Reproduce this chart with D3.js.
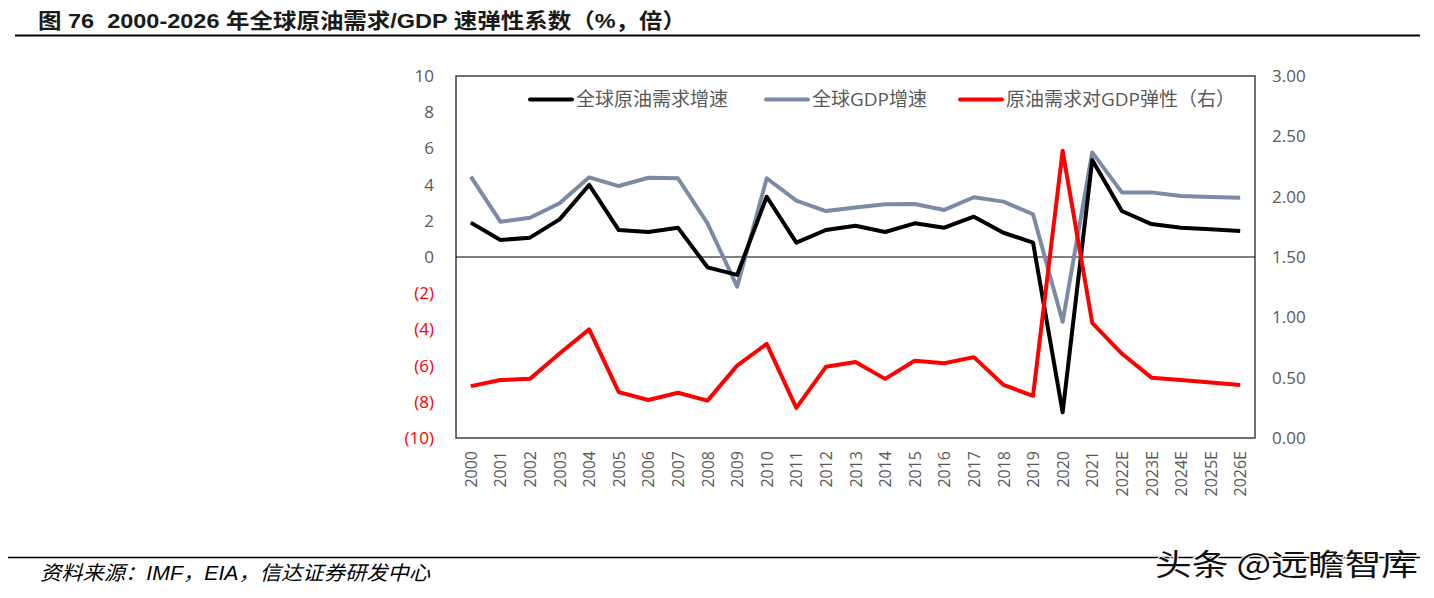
<!DOCTYPE html>
<html><head><meta charset="utf-8">
<script src="https://cdn.jsdelivr.net/npm/d3@7"></script>
<style>
body{margin:0;background:#fff;}
svg{display:block;}
text{white-space:pre;}
</style></head>
<body><svg id="c" width="1434" height="598"></svg>
<script>
const years = ["2000","2001","2002","2003","2004","2005","2006","2007","2008","2009","2010","2011","2012","2013","2014","2015","2016","2017","2018","2019","2020","2021","2022E","2023E","2024E","2025E","2026E"];
const oilDemand = [1.9,0.94,1.07,2.08,3.98,1.49,1.38,1.62,-0.57,-0.99,3.33,0.79,1.49,1.73,1.38,1.86,1.62,2.23,1.34,0.79,-8.58,5.36,2.54,1.82,1.62,1.53,1.44];
const gdpGrowth = [4.44,1.95,2.17,2.97,4.40,3.92,4.38,4.35,1.86,-1.64,4.35,3.11,2.54,2.73,2.91,2.93,2.60,3.30,3.06,2.36,-3.58,5.78,3.57,3.57,3.37,3.31,3.28];
const elasticity = [0.43,0.48,0.49,0.70,0.90,0.38,0.315,0.375,0.31,0.60,0.78,0.25,0.59,0.63,0.49,0.64,0.62,0.67,0.44,0.35,2.38,0.955,0.70,0.50,0.48,0.46,0.44];
const leftTicks = [10,8,6,4,2,0,-2,-4,-6,-8,-10];
const rightTicks = [3,2.5,2,1.5,1,0.5,0];
const seriesNames = ["全球原油需求增速","全球GDP增速","原油需求对GDP弹性（右）"];

const svg = d3.select("#c");
const L = 456, R = 1255, T = 76, B = 438;
const x = d3.scalePoint().domain(years).range([L, R]).padding(0.5);
const yL = d3.scaleLinear().domain([-10, 10]).range([B, T]);
const yR = d3.scaleLinear().domain([0, 3]).range([B, T]);

// Title
svg.append("text").attr("x", 38).attr("y", 28)
  .attr("font-family", "'Liberation Sans','Noto Sans CJK SC',sans-serif")
  .attr("font-weight", "bold").attr("font-size", 21).attr("fill", "#1a1a1a")
  .attr("textLength", 648).attr("lengthAdjust", "spacingAndGlyphs")
  .text("图 76  2000-2026 年全球原油需求/GDP 速弹性系数（%，倍）");
svg.append("line").attr("x1", 15).attr("x2", 1420).attr("y1", 35.5).attr("y2", 35.5)
  .attr("stroke", "#000").attr("stroke-width", 2);

// Frame
svg.append("rect").attr("x", L).attr("y", T).attr("width", R - L).attr("height", B - T)
  .attr("fill", "none").attr("stroke", "#404040").attr("stroke-width", 1.5);
// zero line
svg.append("line").attr("x1", L).attr("x2", R).attr("y1", yL(0)).attr("y2", yL(0))
  .attr("stroke", "#000").attr("stroke-width", 1);

const fontF = "'Open Sans','Noto Sans CJK SC',sans-serif";
// Left axis
const gl = svg.append("g").attr("transform", `translate(${L},0)`)
  .call(d3.axisLeft(yL).tickValues(leftTicks).tickSize(0).tickPadding(22)
    .tickFormat(d => d < 0 ? `(${-d})` : d));
gl.select(".domain").remove();
gl.selectAll("text").attr("font-family", fontF).attr("font-size", 17)
  .attr("fill", d => d < 0 ? "#ff0000" : "#595959");
// Right axis
const gr = svg.append("g").attr("transform", `translate(${R},0)`)
  .call(d3.axisRight(yR).tickValues(rightTicks).tickSize(0).tickPadding(17)
    .tickFormat(d3.format(".2f")));
gr.select(".domain").remove();
gr.selectAll("text").attr("font-family", fontF).attr("font-size", 17).attr("fill", "#595959");
// X axis
const gx = svg.append("g").attr("transform", `translate(0,${B})`)
  .call(d3.axisBottom(x).tickSize(0).tickPadding(0));
gx.select(".domain").remove();
gx.selectAll("text").attr("font-family", fontF).attr("font-size", 16).attr("fill", "#595959")
  .attr("transform", "rotate(-90)").attr("text-anchor", "end")
  .attr("x", -13).attr("y", 0).attr("dy", "0.35em");

// Lines
const lineL = d3.line().x((d, i) => x(years[i])).y(d => yL(d));
const lineR = d3.line().x((d, i) => x(years[i])).y(d => yR(d));
svg.append("path").datum(gdpGrowth).attr("d", lineL).attr("fill", "none")
  .attr("stroke", "#7b8ba6").attr("stroke-width", 4).attr("stroke-linejoin", "round");
svg.append("path").datum(oilDemand).attr("d", lineL).attr("fill", "none")
  .attr("stroke", "#000").attr("stroke-width", 4).attr("stroke-linejoin", "round");
svg.append("path").datum(elasticity).attr("d", lineR).attr("fill", "none")
  .attr("stroke", "#ff0000").attr("stroke-width", 4).attr("stroke-linejoin", "round");

// Legend
const legend = [
  {name: seriesNames[0], color: "#000", x: 530},
  {name: seriesNames[1], color: "#7b8ba6", x: 766},
  {name: seriesNames[2], color: "#ff0000", x: 960}
];
legend.forEach(l => {
  svg.append("line").attr("x1", l.x).attr("x2", l.x + 42).attr("y1", 99.5).attr("y2", 99.5)
    .attr("stroke", l.color).attr("stroke-width", 4).attr("stroke-linecap", "round");
  svg.append("text").attr("x", l.x + 46).attr("y", 99.5).attr("dy", "0.35em")
    .attr("font-family", fontF).attr("font-size", 19).attr("fill", "#595959").text(l.name);
});

// Footer
svg.append("line").attr("x1", 8).attr("x2", 1420).attr("y1", 557.5).attr("y2", 557.5)
  .attr("stroke", "#000").attr("stroke-width", 1.5);
svg.append("text").attr("x", 40).attr("y", 580)
  .attr("font-family", "'Liberation Sans','Noto Sans CJK SC',sans-serif")
  .attr("font-style", "italic").attr("font-size", 20).attr("fill", "#000")
  .attr("textLength", 390).attr("lengthAdjust", "spacingAndGlyphs")
  .text("资料来源：IMF，EIA，信达证券研发中心");
svg.append("text").attr("x", 1155).attr("y", 575)
  .attr("font-family", "'Noto Sans CJK SC',sans-serif").attr("font-size", 30)
  .attr("textLength", 263).attr("lengthAdjust", "spacingAndGlyphs")
  .attr("fill", "#111").attr("stroke", "#fff").attr("stroke-width", 2).attr("paint-order", "stroke")
  .text("头条 @远瞻智库");
</script></body></html>
